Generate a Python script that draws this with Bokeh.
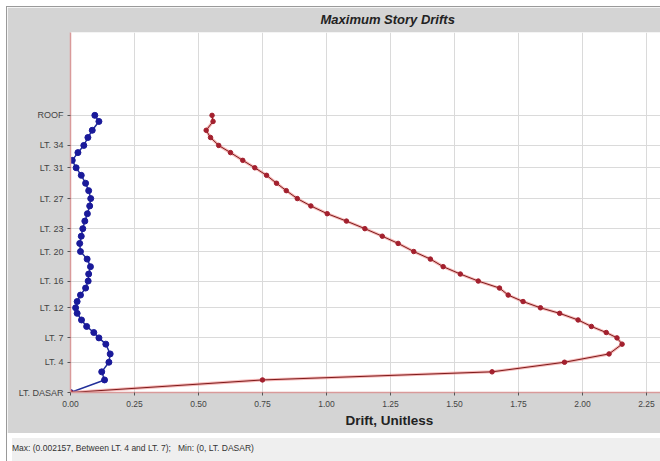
from bokeh.plotting import figure
from bokeh.models import Range1d, FixedTicker, Title, Div, PrintfTickFormatter
from bokeh.layouts import column
from bokeh.embed import file_html
from bokeh.resources import INLINE

# ---- data ----
story_names = ["LT. DASAR"] + [f"LT. {i}" for i in range(2, 38)] + ["ROOF"]
elevation_m = [0.0, 6.8, 11.2, 16.4, 20.9, 26.2, 29.6, 32.5, 35.8, 39.3,
               42.9, 45.9, 49.3, 52.8, 56.6, 60.4, 64.2, 68.2, 72.3, 76.4,
               80.8, 84.7, 88.8, 92.9, 96.9, 101.1, 105.1, 109.4, 113.4, 117.7,
               121.8, 125.8, 130.0, 133.9, 138.2, 142.1, 146.9, 150.2]
drift_x = [0.0, 0.133, 0.122, 0.150, 0.155, 0.138, 0.111, 0.091, 0.063, 0.043,
           0.026, 0.020, 0.026, 0.039, 0.059, 0.069, 0.071, 0.078, 0.065, 0.039,
           0.036, 0.042, 0.048, 0.056, 0.066, 0.075, 0.079, 0.071, 0.059, 0.042,
           0.022, 0.007, 0.029, 0.052, 0.068, 0.085, 0.111, 0.095]
drift_y = [0.0, 0.750, 1.647, 1.930, 2.104, 2.155, 2.135, 2.093, 2.035, 1.983,
           1.911, 1.836, 1.768, 1.710, 1.676, 1.593, 1.523, 1.456, 1.406, 1.341,
           1.280, 1.218, 1.150, 1.078, 1.003, 0.939, 0.886, 0.843, 0.805, 0.766,
           0.720, 0.673, 0.625, 0.579, 0.547, 0.530, 0.557, 0.553]
tick_stories = ["LT. DASAR", "LT. 4", "LT. 7", "LT. 12", "LT. 16", "LT. 20",
                "LT. 23", "LT. 27", "LT. 31", "LT. 34", "ROOF"]
x_ticks = [0.0, 0.25, 0.5, 0.75, 1.0, 1.25, 1.5, 1.75, 2.0, 2.25]
chart_title = "Maximum Story Drifts"
x_title = "Drift, Unitless"
footer_text = "Max: (0.002157, Between LT. 4 and LT. 7);&nbsp;&nbsp; Min: (0, LT. DASAR)"

FONT = "Liberation Sans"
GRAY = "#d4d4d4"
Y_TOP = 195.1

p = figure(width=653, height=426, output_backend="svg", toolbar_location=None,
           tools="", x_range=Range1d(0, 2.305), y_range=Range1d(0, Y_TOP),
           min_border_left=63, min_border_right=0, min_border_top=24,
           min_border_bottom=41)
p.border_fill_color = GRAY
p.background_fill_color = "white"
p.outline_line_color = None

p.add_layout(Title(text=chart_title, align="left", offset=250,
                   vertical_align="top", standoff=8,
                   text_font=FONT, text_font_size="13px",
                   text_font_style="bold italic", text_color="#222222"),
             "above")
p.add_layout(Title(text=x_title, align="left", offset=275, standoff=6,
                   vertical_align="top",
                   text_font=FONT, text_font_size="13.5px",
                   text_font_style="bold", text_color="#222222"),
             "below")

# axes
xa = p.xaxis[0]
xa.ticker = FixedTicker(ticks=x_ticks)
xa.formatter = PrintfTickFormatter(format="%.2f")
xa.axis_line_color = "#d99a9a"
xa.axis_line_width = 1.5
xa.major_tick_line_color = "#555555"
xa.major_tick_out = 3
xa.major_tick_in = 0
xa.minor_tick_line_color = None
xa.major_label_text_font = FONT
xa.major_label_text_font_size = "8.5px"
xa.major_label_text_color = "#444444"
xa.major_label_standoff = 5

tick_elev = [elevation_m[story_names.index(s)] for s in tick_stories]
ya = p.yaxis[0]
ya.ticker = FixedTicker(ticks=tick_elev)
ya.major_label_overrides = {e: s for e, s in zip(tick_elev, tick_stories)}
ya.axis_line_color = "#d99a9a"
ya.axis_line_width = 1.5
ya.major_tick_line_color = "#555555"
ya.major_tick_out = 3
ya.major_tick_in = 0
ya.minor_tick_line_color = None
ya.major_label_text_font = FONT
ya.major_label_text_font_size = "9px"
ya.major_label_text_color = "#444444"
ya.major_label_standoff = 4

p.xgrid.grid_line_color = "#dadada"
p.ygrid.grid_line_color = "#dadada"

# series
p.line(drift_x, elevation_m, line_color="#23309a", line_width=1.5)
p.scatter(drift_x, elevation_m, size=6, fill_color="#1a1a9a",
          line_color="#1a1a9a")

p.line(drift_y, elevation_m, line_color="#f08a8a", line_width=3, line_alpha=0.6)
p.line(drift_y, elevation_m, line_color="#7d1a1a", line_width=1)
p.scatter(drift_y, elevation_m, size=4.5, fill_color="#a3202e",
          line_color="#a3202e")

footer = Div(text=footer_text, width=653, height=28,
             styles={"background-color": "#efefef", "font-family": FONT,
                     "font-size": "8.5px", "color": "#333333",
                     "line-height": "20px", "white-space": "nowrap",
                     "overflow": "hidden", "padding-left": "0px"})

layout = column(p, footer, spacing=0,
                styles={"margin-left": "6px", "margin-top": "6px",
                        "border-left": "1px solid #9a9a9a",
                        "border-top": "1px solid #9a9a9a"})
open("out.html", "w").write(file_html(layout, INLINE))
